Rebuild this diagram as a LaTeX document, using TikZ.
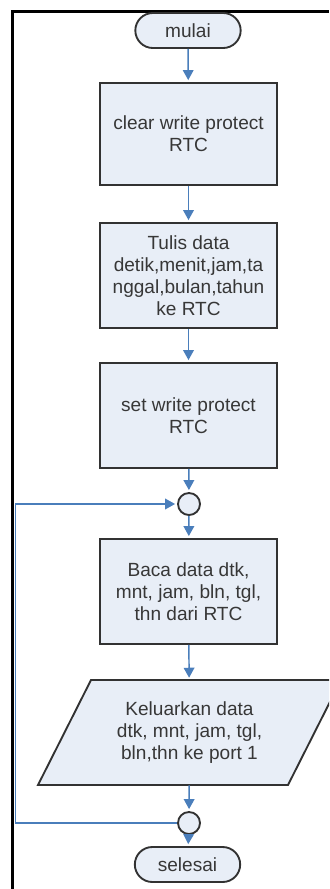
\documentclass[tikz,border=0pt]{standalone}
\usepackage{fontspec}
\setmainfont{Liberation Sans}
\usetikzlibrary{shapes.misc,arrows.meta}
\definecolor{boxfill}{RGB}{232,238,247}
\definecolor{flowblue}{RGB}{74,126,187}
\definecolor{edgecol}{RGB}{50,50,50}
\definecolor{txtcol}{RGB}{55,55,55}
\begin{document}
\begin{tikzpicture}[x=0.75pt,y=-0.75pt,
  every node/.style={font=\fontsize{14.3}{16.5}\selectfont, text=txtcol, align=center, inner sep=0pt},
  procbox/.style={draw=edgecol, line width=1.4pt, fill=boxfill, minimum width=132.75pt, minimum height=78.75pt},
  termbox/.style={draw=edgecol, line width=1.4pt, fill=boxfill, rounded rectangle, minimum width=79pt, minimum height=26.25pt},
  joint/.style={draw=edgecol, line width=1.4pt, fill=boxfill, circle, minimum size=16.5pt},
  flow/.style={draw=flowblue, line width=1.1pt, -{Triangle[length=7.5pt,width=8pt]}, shorten >=1.5pt}]
\useasboundingbox (0,0) rectangle (329,889);
\clip (0,0) rectangle (329,889);
\fill[white] (0,0) rectangle (329,889);
% frame
\draw[line width=2.4pt] (12.5,889) -- (12.5,11.5) -- (329,11.5);
% nodes
\node[termbox] (start) at (188,30.5) {mulai};
\node[procbox, minimum height=76.5pt] (b1) at (188.5,134) {clear write protect\\RTC};
\node[procbox] (b2) at (188.5,275.5) {Tulis data\\detik,menit,jam,ta\\nggal,bulan,tahun\\ke RTC};
\node[procbox] (b3) at (188.5,415.5) {set write protect\\RTC};
\node[joint] (c1) at (189,504) {};
\node[procbox] (b4) at (188.5,591.5) {Baca data dtk,\\mnt, jam, bln, tgl,\\thn dari RTC};
\filldraw[draw=edgecol, line width=1.4pt, fill=boxfill] (91,680) -- (341,680) -- (288,785) -- (38,785) -- cycle;
\node[minimum height=78.75pt, minimum width=150pt] (io) at (189.5,732.5) {Keluarkan data\\dtk, mnt, jam, tgl,\\bln,thn ke port 1};
\node[joint] (c2) at (189,823) {};
\node[termbox] (stop) at (187.5,864.5) {selesai};
% connectors
\draw[flow] (start) -- (b1);
\draw[flow] (b1) -- (b2);
\draw[flow] (b2) -- (b3);
\draw[flow] (b3) -- (c1);
\draw[flow] (c1) -- (b4);
\draw[flow] (b4) -- (io);
\draw[flow] (io) -- (c2);
\draw[flow] (c2) -- (stop);
\coordinate (lb) at (15.5,823);
\coordinate (lt) at (15.5,504);
\draw[flow] (c2.west) -- (lb) -- (lt) -- (c1.west);
\end{tikzpicture}
\end{document}
